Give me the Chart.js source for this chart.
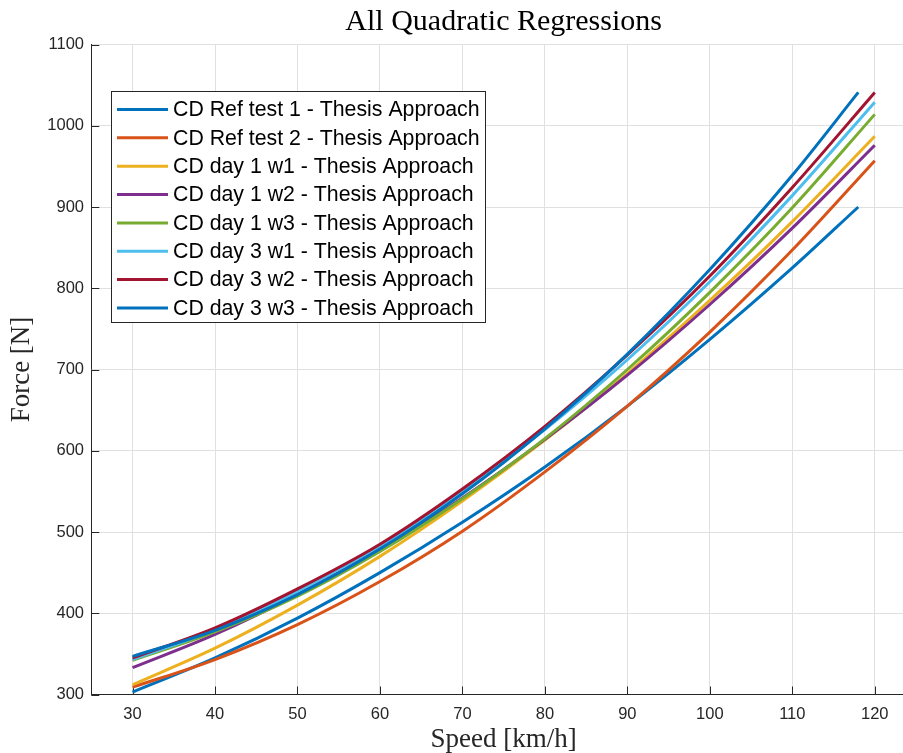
<!DOCTYPE html>
<html>
<head>
<meta charset="utf-8">
<title>All Quadratic Regressions</title>
<script src="https://cdn.jsdelivr.net/npm/chart.js@4.4.0/dist/chart.umd.min.js"></script>
<style>
  html, body { margin: 0; padding: 0; overflow: hidden; background: #fff; }
  canvas { display: block; }
</style>
</head>
<body>
<canvas id="myChart" width="916" height="753"></canvas>
<script>
    // velocidades (km/h) de cada curva
    const velocidades = [30, 40, 50, 60, 70, 80, 90, 100, 110, 120];
    const velocidadesCurtas = [30, 40, 50, 60, 70, 80, 90, 100, 110, 118];

    // forcas (N)
    const refTeste1 = [303, 345, 394, 450, 512, 580, 655, 737, 825, 900];
    const refTeste2 = [309, 343, 386, 439, 501, 574, 655, 746, 847, 957];
    const dia1w1 = [312, 357, 410, 470, 538, 613, 695, 785, 882, 987];
    const dia1w2 = [333, 374, 423, 479, 542, 614, 693, 780, 874, 976];
    const dia1w3 = [342, 377, 421, 476, 541, 615, 700, 795, 899, 1014];
    const dia3w1 = [343, 380, 427, 483, 550, 626, 712, 808, 914, 1029];
    const dia3w2 = [345, 382, 430, 485, 553, 630, 718, 815, 924, 1041];
    const dia3w3 = [347, 379, 423, 479, 547, 627, 719, 823, 939, 1041];

    const rotulos = [
        'CD Ref test 1 - Thesis Approach',
        'CD Ref test 2 - Thesis Approach',
        'CD day 1 w1 - Thesis Approach',
        'CD day 1 w2 - Thesis Approach',
        'CD day 1 w3 - Thesis Approach',
        'CD day 3 w1 - Thesis Approach',
        'CD day 3 w2 - Thesis Approach',
        'CD day 3 w3 - Thesis Approach'
    ];
    const cores = ['#0072BD', '#D95319', '#EDB120', '#7E2F8E', '#77AC30', '#4DBEEE', '#A2142F', '#0072BD'];

    const ticksX = [30, 40, 50, 60, 70, 80, 90, 100, 110, 120];
    const ticksY = [300, 400, 500, 600, 700, 800, 900, 1000, 1100];

    const series = [
        { x: velocidadesCurtas, y: refTeste1 },
        { x: velocidades, y: refTeste2 },
        { x: velocidades, y: dia1w1 },
        { x: velocidades, y: dia1w2 },
        { x: velocidades, y: dia1w3 },
        { x: velocidades, y: dia3w1 },
        { x: velocidades, y: dia3w2 },
        { x: velocidadesCurtas, y: dia3w3 }
    ];

    const dados = {
        datasets: series.map(function (s, i) {
            return {
                label: rotulos[i],
                data: s.x.map(function (v, j) { return { x: v, y: s.y[j] }; }),
                borderColor: cores[i],
                backgroundColor: cores[i],
                borderWidth: 3,
                pointRadius: 0,
                fill: false,
                cubicInterpolationMode: 'monotone',
                order: series.length - 1 - i // as ultimas ficam por cima, como no matlab
            };
        })
    };

    // marcas dos ticks para dentro do eixo
    const marcasInternas = {
        id: 'marcasInternas',
        beforeDatasetsDraw(chart) {
            const ctx = chart.ctx;
            const area = chart.chartArea;
            const x = chart.scales.x;
            const y = chart.scales.y;
            ctx.save();
            ctx.strokeStyle = '#262626';
            ctx.lineWidth = 1;
            ctx.beginPath();
            ticksX.forEach(function (v) {
                const px = Math.round(x.getPixelForValue(v)) + 0.5;
                ctx.moveTo(px, area.bottom);
                ctx.lineTo(px, area.bottom - 8);
            });
            ticksY.forEach(function (v) {
                const py = Math.round(y.getPixelForValue(v)) + 0.5;
                ctx.moveTo(area.left, py);
                ctx.lineTo(area.left + 8, py);
            });
            ctx.stroke();
            ctx.restore();
        }
    };

    // legenda dentro do grafico (canto superior esquerdo)
    const legendaInterna = {
        id: 'legendaInterna',
        afterDraw(chart) {
            const ctx = chart.ctx;
            const caixa = { x: 111, y: 91, w: 374, h: 231 };
            ctx.save();
            ctx.fillStyle = '#fff';
            ctx.fillRect(caixa.x, caixa.y, caixa.w, caixa.h);
            ctx.strokeStyle = '#262626';
            ctx.lineWidth = 1;
            ctx.strokeRect(caixa.x + 0.5, caixa.y + 0.5, caixa.w, caixa.h);
            ctx.font = '21.3px "Liberation Sans", Arial, sans-serif';
            ctx.textBaseline = 'middle';
            ctx.textAlign = 'left';
            chart.data.datasets.forEach(function (ds, i) {
                const ly = 109.5 + i * 28.35;
                ctx.strokeStyle = ds.borderColor;
                ctx.lineWidth = 3;
                ctx.beginPath();
                ctx.moveTo(117, ly);
                ctx.lineTo(168, ly);
                ctx.stroke();
                ctx.fillStyle = '#000';
                ctx.fillText(ds.label, 173, ly + 1);
            });
            ctx.restore();
        }
    };

    const config = {
        type: 'line',
        data: dados,
        plugins: [marcasInternas, legendaInterna],
        options: {
            responsive: false,
            animation: false,
            layout: { padding: 0 },
            plugins: {
                legend: { display: false },
                tooltip: { enabled: false },
                title: {
                    display: true,
                    text: 'All Quadratic Regressions',
                    fullSize: false,
                    color: '#000',
                    font: { family: 'Liberation Serif', size: 30, weight: 'normal', lineHeight: 1.2 },
                    padding: { top: 4, bottom: 4.5 }
                }
            },
            scales: {
                x: {
                    type: 'linear',
                    min: 25,
                    max: 125,
                    afterBuildTicks: function (s) { s.ticks = ticksX.map(function (v) { return { value: v }; }); },
                    afterFit: function (s) { s.height = 58.5; },
                    grid: { color: '#e0e0e0', drawTicks: false },
                    border: { color: '#262626', width: 1 },
                    ticks: {
                        color: '#262626',
                        font: { family: 'Liberation Sans', size: 16.5 },
                        padding: 10,
                        maxRotation: 0,
                        callback: function (v) { return String(v); }
                    },
                    title: {
                        display: true,
                        text: 'Speed [km/h]',
                        color: '#262626',
                        font: { family: 'Liberation Serif', size: 27, lineHeight: 1 },
                        padding: { top: 0, bottom: 0 }
                    }
                },
                y: {
                    type: 'linear',
                    min: 300,
                    max: 1100,
                    afterBuildTicks: function (s) { s.ticks = ticksY.map(function (v) { return { value: v }; }); },
                    afterFit: function (s) { s.width = 91.3; },
                    grid: { color: '#e0e0e0', drawTicks: false },
                    border: { color: '#262626', width: 1 },
                    ticks: {
                        color: '#262626',
                        font: { family: 'Liberation Sans', size: 16.5 },
                        padding: 7.3,
                        callback: function (v) { return String(v); }
                    },
                    title: {
                        display: true,
                        text: 'Force [N]',
                        color: '#262626',
                        font: { family: 'Liberation Serif', size: 27, lineHeight: 1 },
                        padding: { top: 8.5, bottom: 0 }
                    }
                }
            }
        }
    };

    const myChart = new Chart(
        document.getElementById('myChart'),
        config
    );
</script>
</body>
</html>
